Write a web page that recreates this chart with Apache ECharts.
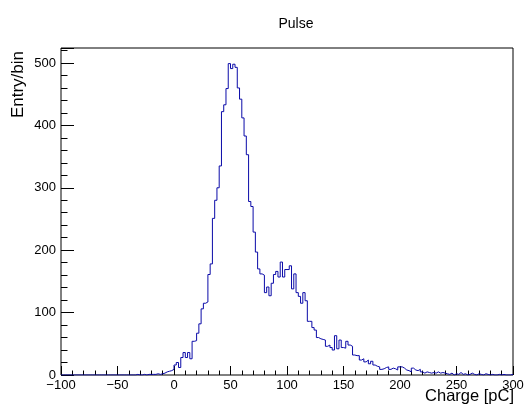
<!DOCTYPE html>
<html>
<head>
<meta charset="utf-8">
<title>Pulse</title>
<script src="https://cdn.jsdelivr.net/npm/echarts@6/dist/echarts.min.js"></script>
<style>
  html, body { margin: 0; padding: 0; background: #fff; }
  #chart { width: 527px; height: 413px; }
</style>
</head>
<body>
<div id="chart"></div>
<script>
// Histogram binning: 200 bins of 2 pC from -100 to 300 pC
const binLow = -100;
const binWidth = 2;

// Entries per bin, 20 bins (40 pC) per row
const counts = [
  0, 0, 0, 0, 0, 0, 0, 0, 0, 0, 0, 0, 0, 0, 0, 0, 0, 0, 0, 0,            // -100 .. -62
  0, 0, 0, 0, 0, 0, 0, 0, 0, 0, 0, 0, 0, 1, 0, 0, 1, 0, 1, 1,            //  -60 .. -22
  1, 1, 2, 1, 2, 3, 5, 6, 7, 9, 16, 20, 12, 28, 36, 28, 36, 26, 54, 55,  //  -20 .. 18
  67, 82, 106, 115, 117, 161, 178, 251, 280, 300,
  335, 422, 433, 459, 499, 491, 498, 493, 460, 442,                      //   20 .. 58
  412, 383, 353, 278, 270, 229, 197, 170, 162, 160,
  132, 141, 127, 147, 161, 166, 157, 181, 157, 169,                      //   60 .. 98
  169, 175, 138, 162, 132, 126, 115, 132, 119, 86,
  86, 76, 72, 60, 58, 57, 56, 46, 48, 44,                                //  100 .. 138
  40, 63, 42, 56, 44, 43, 54, 48, 46, 32, 31, 31, 24, 26, 21, 24, 18, 22, 16, 14, // 140 .. 178
  13, 9, 10, 12, 13, 9, 11, 10, 8, 13, 13, 11, 8, 7, 5, 11, 8, 7, 9, 5,  //  180 .. 218
  3, 5, 4, 3, 4, 3, 5, 3, 4, 3, 2, 1, 3, 0, 2, 1, 4, 1, 2, 0,            //  220 .. 258
  1, 3, 1, 0, 2, 1, 0, 2, 1, 0, 1, 0, 0, 1, 0, 1, 0, 0, 0, 1             //  260 .. 298
];

// Axis ranges and tick spacing
const xRange = [-100, 300];
const xMajorStep = 50;
const yRange = [0, 524];
const yMajorStep = 100;
const yMinorStep = 20;

// Text
const chartTitle = 'Pulse';
const xTitle = 'Charge [pC]';
const yTitle = 'Entry/bin';

const FONT = '"Liberation Sans", Arial, Helvetica, sans-serif';
const LINE = '#0a0aa8';

// Step outline: each point sits on a bin's low edge, the last one closes at the upper edge
const stepData = counts.map((v, i) => [binLow + i * binWidth, v]);
stepData.push([binLow + counts.length * binWidth, counts[counts.length - 1]]);

const chart = echarts.init(document.getElementById('chart'), null, { renderer: 'canvas' });

const grid = { left: 61, right: 14, top: 48, bottom: 38 };
const plotRight = 527 - grid.right;

const tickLabel = { color: '#000', fontFamily: FONT, fontSize: 13 };

chart.setOption({
  animation: false,
  backgroundColor: '#fff',
  grid: Object.assign({ show: true, borderColor: '#000', borderWidth: 1, backgroundColor: 'transparent' }, grid),
  xAxis: {
    type: 'value',
    min: xRange[0],
    max: xRange[1],
    interval: xMajorStep,
    axisLine: { show: false, onZero: false },
    splitLine: { show: false },
    axisTick: { show: true, inside: true, length: 9, lineStyle: { color: '#000', width: 1 } },
    minorTick: { show: true, splitNumber: 5, length: 4.5, lineStyle: { color: '#000', width: 1 } },
    axisLabel: Object.assign({
      margin: 4,
      formatter: v => String(v).replace('-', '\u2212')
    }, tickLabel)
  },
  yAxis: [
    {
      type: 'value',
      position: 'left',
      min: yRange[0],
      max: yRange[1],
      interval: yMajorStep,
      axisLine: { show: false, onZero: false },
      splitLine: { show: false },
      axisTick: { show: true, inside: true, length: 13, lineStyle: { color: '#000', width: 1 } },
      axisLabel: Object.assign({
        margin: 5,
        formatter: v => (v % yMajorStep === 0 ? String(v) : '')
      }, tickLabel)
    },
    {
      type: 'value',
      position: 'left',
      min: yRange[0],
      max: yRange[1],
      interval: yMinorStep,
      axisLine: { show: false, onZero: false },
      splitLine: { show: false },
      axisTick: { show: true, inside: true, length: 6.5, lineStyle: { color: '#000', width: 1 } },
      axisLabel: { show: false }
    }
  ],
  graphic: [
    {
      type: 'text', x: 296, y: 24,
      style: { text: chartTitle, fill: '#000', font: '14px ' + FONT, textAlign: 'center', textVerticalAlign: 'middle' }
    },
    {
      type: 'text', x: plotRight + 1, y: 396,
      style: { text: xTitle, fill: '#000', font: '16.5px ' + FONT, textAlign: 'right', textVerticalAlign: 'middle' }
    },
    {
      type: 'text', x: 18, y: grid.top + 3, rotation: Math.PI / 2,
      style: { text: yTitle, fill: '#000', font: '17px ' + FONT, textAlign: 'right', textVerticalAlign: 'middle' }
    }
  ],
  series: [
    {
      type: 'line',
      step: 'end',
      data: stepData,
      xAxisIndex: 0,
      yAxisIndex: 0,
      showSymbol: false,
      symbol: 'none',
      lineStyle: { color: LINE, width: 1 },
      z: 3
    }
  ]
});
</script>
</body>
</html>
